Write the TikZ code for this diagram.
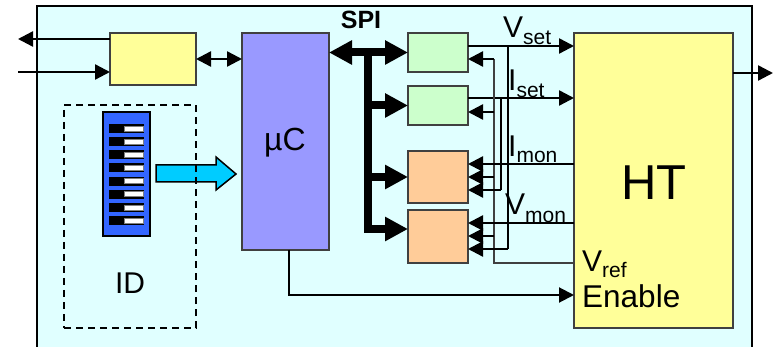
\documentclass[tikz,border=0pt]{standalone}
\usepackage{fontspec}
\setmainfont{Liberation Sans}
\usetikzlibrary{arrows.meta}
\definecolor{panelc}{rgb}{0.88,1,1}
\definecolor{yellowc}{rgb}{1,1,0.6}
\definecolor{violetc}{rgb}{0.6,0.6,1}
\definecolor{greenc}{rgb}{0.8,1,0.8}
\definecolor{orangec}{rgb}{1,0.8,0.6}
\definecolor{dipc}{rgb}{0.2,0.4,1}
\definecolor{cyanc}{rgb}{0,0.8,1}
\definecolor{grayc}{rgb}{0.25,0.25,0.25}
\newcommand{\fsize}[1]{\fontsize{#1}{#1}\selectfont}
\newcommand{\lab}[3]{#1\raisebox{-#3pt}{\fsize{21}#2}}
\tikzset{
  block/.style={draw=grayc,line width=2pt,inner sep=0pt,outer sep=0pt},
  sig/.style={line width=2.4pt,-{Triangle[length=15pt,width=15pt]}},
  sigs/.style={line width=2.4pt,{Triangle[length=15pt,width=15pt]}-{Triangle[length=15pt,width=15pt]}},
  tap/.style={line width=1.5pt},
  spi/.style={line width=8pt,-{Triangle[length=23pt,width=23pt]}},
  txt/.style={inner sep=0pt,anchor=base west,font=\fsize{30}}
}
\begin{document}
\begin{tikzpicture}[line join=miter,x=1pt,y=-1pt]
  \useasboundingbox (0,0) rectangle (776,347);
  \fill[panelc] (37,6) rectangle (752,347);
  \draw[line width=2pt] (37,347) -- (37,6) -- (752,6) -- (752,347);
  % boxes
  \node[block,fill=yellowc,minimum width=86pt,minimum height=52pt] (link) at (153,59) {};
  \node[block,fill=violetc,minimum width=87pt,minimum height=217pt] (uc) at (285.5,141.5) {};
  \node[block,fill=greenc,minimum width=60pt,minimum height=39pt] (dacv) at (438,52.5) {};
  \node[block,fill=greenc,minimum width=60pt,minimum height=39pt] (daci) at (438,105.5) {};
  \node[block,fill=orangec,minimum width=60pt,minimum height=52pt] (adci) at (438,177) {};
  \node[block,fill=orangec,minimum width=60pt,minimum height=53pt] (adcv) at (438,236.5) {};
  \node[block,fill=yellowc,minimum width=159pt,minimum height=295pt] (ht) at (653.5,180.5) {};
  % dip switch
  \draw[line width=1.5pt,fill=dipc] (103,112) rectangle (150,236);
  \foreach \y in {0,...,7} {
    \fill[black] (109,{124+13.14*\y}) rectangle (144,{133+13.14*\y});
    \fill[white,draw=gray,line width=0.6pt] (124,{126+13.14*\y}) rectangle (143,{131+13.14*\y});
  }
  \draw[line width=1.5pt,fill=cyanc] (156,165) -- (216,165) -- (216,157) -- (236,174) -- (216,190) -- (216,182) -- (156,182) -- cycle;
  \node[draw,line width=1.5pt,dash pattern=on 7pt off 5pt,inner sep=0pt,outer sep=0pt,minimum width=132pt,minimum height=223pt] (id) at (130,216.5) {};
  % ports
  \coordinate (outa) at (18,39);
  \coordinate (ina) at (18,72);
  \coordinate (outb) at (773,73);
  \coordinate (vs) at (574,46);
  \coordinate (is) at (574,98);
  \coordinate (im) at (574,164);
  \coordinate (vm) at (574,223);
  \coordinate (vr) at (574,263);
  \coordinate (en) at (574,295);
  \coordinate (bus) at (368,52);
  \coordinate (tapv) at (508,46);
  \coordinate (tapi) at (501,98);
  \coordinate (tapr) at (494,59);
  % left side
  \draw[sig] (link.west |- outa) -- (outa);
  \draw[sig] (ina) -- (link.west |- ina);
  \draw[sigs] (link.east) -- (uc.west |- link.east);
  \draw[sig] (ht.east |- outb) -- (outb);
  % bus
  \draw[spi,{Triangle[length=23pt,width=23pt]}-{Triangle[length=23pt,width=23pt]}] (uc.east |- dacv) -- (dacv.west);
  \draw[spi] (bus) -- (bus |- 0,229) -- (adcv.west |- 0,229);
  \draw[spi] (bus |- daci) -- (daci.west);
  \draw[spi] (bus |- adci) -- (adci.west);
  % set lines
  \draw[sig] (dacv.east |- vs) -- (vs);
  \draw[sig] (daci.east |- is) -- (is);
  \draw[tap] (tapv) -- (tapv |- 0,249);
  \draw[tap] (tapi) -- (tapi |- 0,190);
  \draw[tap,grayc] (tapr) -- (tapr |- vr) -- (vr);
  % arrows into converters
  \foreach \n/\y in {dacv/59,daci/112,adci/177,adcv/236}
    \draw[sig] (tapr |- 0,\y) -- (\n.east |- 0,\y);
  \draw[sig] (tapi |- 0,190) -- (adci.east |- 0,190);
  \draw[sig] (tapv |- 0,249) -- (adcv.east |- 0,249);
  \draw[sig] (im) -- (adci.east |- im);
  \draw[sig] (vm) -- (adcv.east |- vm);
  % enable
  \draw[line width=2pt,-{Triangle[length=15pt,width=15pt]}] (uc.south -| 289,0) -- (289,295) -- (en);
  % texts
  \node[inner sep=0pt,font=\bfseries\fsize{25}] (spitxt) at (361,20) {SPI};
  \node[inner sep=0pt,font=\fsize{32}] (uctxt) at (285,143) {µC};
  \node[inner sep=0pt,font=\fsize{30}] (idtxt) at (130,283) {ID};
  \node[inner sep=0pt,font=\fsize{49}] (httxt) at (654,183) {HT};
  \node[txt] (vstxt) at (503,38) {\lab{V}{set}{7}};
  \node[txt] (istxt) at (508,91) {\lab{I}{set}{7}};
  \node[txt] (imtxt) at (508,157) {\lab{I}{mon}{6}};
  \node[txt] (vmtxt) at (505,215) {\lab{V}{mon}{8}};
  \node[txt] (vrtxt) at (582,272) {\lab{V}{ref}{6}};
  \node[txt,font=\fsize{31.5}] (entxt) at (582,307) {Enable};
\end{tikzpicture}
\end{document}
